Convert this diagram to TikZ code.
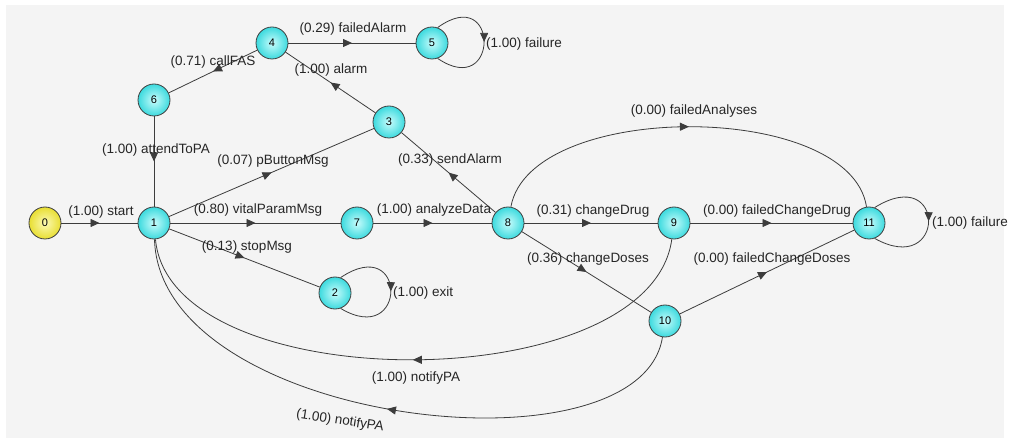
\documentclass[tikz,border=0pt]{standalone}
\usepackage{fontspec}
\setmainfont{Liberation Sans}
\usetikzlibrary{arrows.meta,decorations.markings}
\definecolor{bgc}{RGB}{244,244,244}
\definecolor{cyedge}{RGB}{60,218,222}
\definecolor{cycen}{RGB}{200,252,252}
\definecolor{yeedge}{RGB}{232,222,50}
\definecolor{yecen}{RGB}{252,250,180}
\definecolor{linec}{RGB}{60,60,60}
\begin{document}
\begin{tikzpicture}[x=1pt,y=-1pt,
  st/.style={circle,draw=black!75,line width=0.8pt,minimum size=32pt,inner sep=0pt,
    shading=radial,inner color=cycen,outer color=cyedge,
    font=\fontsize{11}{11}\selectfont},
  ini/.style={st,inner color=yecen,outer color=yeedge},
  tr/.style={draw=linec,line width=0.8pt,postaction={decorate},
    decoration={markings,mark=at position 0.5 with {\arrow{Triangle[length=9pt,width=8pt]}}}},
  lab/.style={font=\fontsize{13.5}{14}\selectfont,text=black!85,inner sep=0pt}]
\useasboundingbox (0,0) rectangle (1012,438);
\fill[white] (0,0) rectangle (1012,438);
\fill[bgc] (6,5) rectangle (1004,438);
% states
\node[ini] (s0) at (45,223) {0};
\node[st] (s1) at (154,223) {1};
\node[st] (s6) at (154,100) {6};
\node[st] (s4) at (272,43) {4};
\node[st] (s5) at (432,43) {5};
\node[st] (s3) at (389,122) {3};
\node[st] (s7) at (357,223) {7};
\node[st] (s2) at (335,293) {2};
\node[st] (s8) at (508,223) {8};
\node[st] (s9) at (674,223) {9};
\node[st] (s10) at (665,321) {10};
\node[st] (s11) at (869,223) {11};
% transitions
\draw[tr] (s0) -- (s1);
\draw[tr] (s6) -- (s1);
\draw[tr] (s4) -- (s6);
\draw[tr] (s4) -- (s5);
\draw[tr] (s5.70) .. controls +(62,-45) and +(62,42) .. (s5.-70);
\draw[tr] (s3) -- (s4);
\draw[tr] (s1) -- (s3);
\draw[tr] (s1) -- (s7);
\draw[tr] (s7) -- (s8);
\draw[tr] (s1) -- (s2);
\draw[tr] (s2.70) .. controls +(67,-45) and +(67,40) .. (s2.-70);
\draw[tr] (s8) -- (s3);
\draw[tr] (s8) .. controls (530,100) and (850,100) .. (s11);
\draw[tr] (s8) -- (s9);
\draw[tr] (s9) -- (s11);
\draw[tr] (s8) -- (s10);
\draw[tr] (s10) -- (s11);
\draw[tr] (s11.70) .. controls +(72,-45) and +(72,40) .. (s11.-70);
\draw[tr] (s9) .. controls (650,400) and (170,400) .. (s1);
\draw[tr] (s10) .. controls (640,480) and (160,425) .. (s1);
% labels
\node[lab] (l1) at (101,212) {(1.00) start};
\node[lab] (l2) at (213,62) {(0.71) callFAS};
\node[lab] (l3) at (353,29) {(0.29) failedAlarm};
\node[lab,anchor=west] (l4) at (486,44) {(1.00) failure};
\node[lab] (l5) at (331,70) {(1.00) alarm};
\node[lab] (l6) at (156,150) {(1.00) attendToPA};
\node[lab] (l7) at (273,161) {(0.07) pButtonMsg};
\node[lab] (l8) at (258,210) {(0.80) vitalParamMsg};
\node[lab] (l9) at (434,210) {(1.00) analyzeData};
\node[lab] (l10) at (247,247) {(0.13) stopMsg};
\node[lab,anchor=west] (l11) at (393,293) {(1.00) exit};
\node[lab] (l12) at (450,160) {(0.33) sendAlarm};
\node[lab] (l13) at (694,111) {(0.00) failedAnalyses};
\node[lab] (l14) at (593,211) {(0.31) changeDrug};
\node[lab] (l15) at (777,211) {(0.00) failedChangeDrug};
\node[lab] (l16) at (588,259) {(0.36) changeDoses};
\node[lab] (l17) at (772,259) {(0.00) failedChangeDoses};
\node[lab,anchor=west] (l18) at (932,223) {(1.00) failure};
\node[lab] (l19) at (416,378) {(1.00) notifyPA};
\node[lab,rotate=-9] (l20) at (340,421) {(1.00) notifyPA};
\end{tikzpicture}
\end{document}
